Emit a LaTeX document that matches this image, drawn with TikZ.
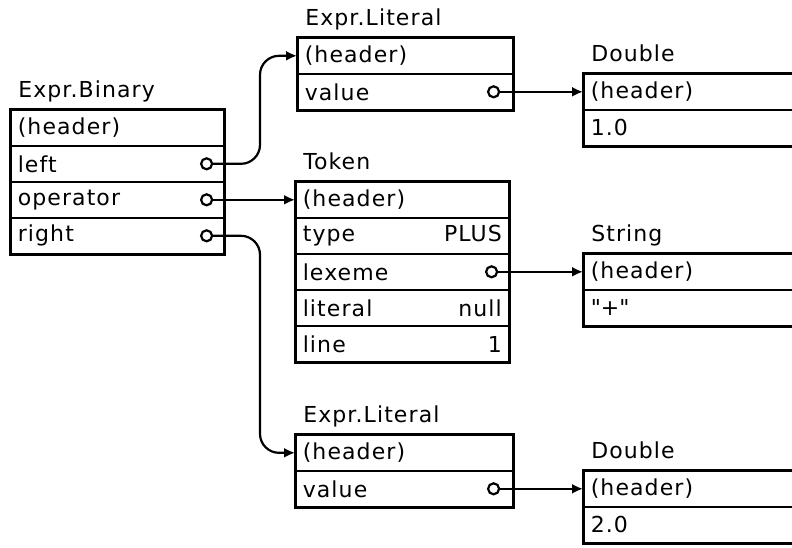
\documentclass[tikz,border=0pt]{standalone}
\usepackage{fontspec}
\setmainfont{DejaVu Sans}[LetterSpace=5]
\usetikzlibrary{positioning,arrows.meta,fit}

\begin{document}
\begin{tikzpicture}[x=1pt,y=-1pt,
  field/.style={draw,line width=1.6pt,anchor=north west,minimum height=36pt,
    inner xsep=7pt,inner ysep=0pt,font=\fontsize{22}{25}\selectfont},
  frame/.style={draw,line width=2.5pt,inner sep=0pt},
  title/.style={anchor=base west,font=\fontsize{22}{25}\selectfont},
  ptr/.style={circle,draw,line width=2.2pt,fill=white,minimum size=11pt,inner sep=0pt},
  link/.style={line width=2.2pt,rounded corners=19pt,-{Latex[length=11pt,width=10pt]}}]
\clip (0,0) rectangle (792,547);

% Expr.Binary
\node[field,text width=199pt] (bh) at (10,109) {(header)};
\node[field,text width=199pt] (bl) at (10,145) {left};
\node[field,text width=199pt] (bo) at (10,181) {operator};
\node[field,text width=199pt] (br) at (10,217) {right};
\node[frame,fit=(bh)(br)] (bin) {};
\node[title] (bint) at ([xshift=6pt,yshift=10pt]bin.north west) {Expr.Binary};
\node[ptr] (lc) at ([xshift=-18pt]bl.east) {};
\node[ptr] (oc) at ([xshift=-18pt]bo.east) {};
\node[ptr] (rc) at ([xshift=-18pt]br.east) {};

% upper Expr.Literal
\node[field,text width=201pt] (l1h) at (297,37) {(header)};
\node[field,text width=201pt] (l1v) at (297,73) {value};
\node[frame,fit=(l1h)(l1v)] (lit1) {};
\node[title] (lit1t) at ([xshift=6pt,yshift=10pt]lit1.north west) {Expr.Literal};
\node[ptr] (l1c) at ([xshift=-20pt]l1v.east) {};

% upper Double
\node[field,text width=236pt] (d1h) at (583,73) {(header)};
\node[field,text width=236pt] (d1v) at (583,109) {1.0};
\node[frame,fit=(d1h)(d1v)] (dbl1) {};
\node[title] (dbl1t) at ([xshift=6pt,yshift=10pt]dbl1.north west) {Double};

% Token
\node[field,text width=199pt] (th) at (295,181) {(header)};
\node[field,text width=199pt] (tt) at (295,217) {type\hfill PLUS};
\node[field,text width=199pt] (tx) at (295,253) {lexeme};
\node[field,text width=199pt] (tl) at (295,289) {literal\hfill null};
\node[field,text width=199pt] (tn) at (295,325) {line\hfill 1};
\node[frame,fit=(th)(tn)] (tok) {};
\node[title] (tokt) at ([xshift=6pt,yshift=10pt]tok.north west) {Token};
\node[ptr] (xc) at ([xshift=-18pt]tx.east) {};

% String
\node[field,text width=236pt] (sh) at (583,253) {(header)};
\node[field,text width=236pt] (sv) at (583,289) {\textquotedbl+\textquotedbl};
\node[frame,fit=(sh)(sv)] (str) {};
\node[title] (strt) at ([xshift=6pt,yshift=10pt]str.north west) {String};

% lower Expr.Literal
\node[field,text width=203pt] (l2h) at (295,434) {(header)};
\node[field,text width=203pt] (l2v) at (295,470) {value};
\node[frame,fit=(l2h)(l2v)] (lit2) {};
\node[title] (lit2t) at ([xshift=6pt,yshift=10pt]lit2.north west) {Expr.Literal};
\node[ptr] (l2c) at ([xshift=-20pt]l2v.east) {};

% lower Double
\node[field,text width=236pt] (d2h) at (583,470) {(header)};
\node[field,text width=236pt] (d2v) at (583,506) {2.0};
\node[frame,fit=(d2h)(d2v)] (dbl2) {};
\node[title] (dbl2t) at ([xshift=6pt,yshift=10pt]dbl2.north west) {Double};

% pointers
\coordinate (upbend) at (260,110);
\coordinate (downbend) at (260,340);
\draw[link] (lc) -| (upbend) |- (l1h.west);
\draw[link] (oc) -- (th.west);
\draw[link] (rc) -| (downbend) |- (l2h.west);
\draw[link] (l1c) -- (d1h.west);
\draw[link] (xc) -- (sh.west);
\draw[link] (l2c) -- (d2h.west);
\end{tikzpicture}
\end{document}
